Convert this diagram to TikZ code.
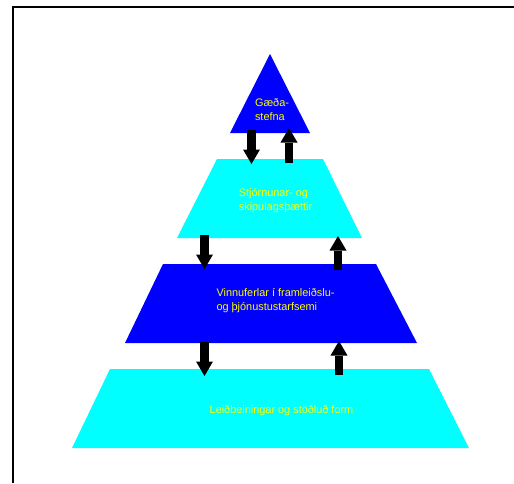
\documentclass[tikz,border=0pt]{standalone}
\usepackage{fontspec}
\setmainfont{Liberation Sans}
\usetikzlibrary{arrows.meta}
\definecolor{lvcyan}{RGB}{0,255,255}
\definecolor{lvblue}{RGB}{0,0,255}
\definecolor{lvyellow}{RGB}{255,255,0}
\tikzset{
  level/.style={draw=none},
  lbl/.style={text=lvyellow, font=\fontsize{10.9}{14}\selectfont, align=left, inner sep=0pt},
  blk/.style={line width=8.5pt, -{Triangle[width=17pt,length=14.5pt,line width=0pt]}, black},
  frame/.style={line width=2pt, black}
}
\begin{document}
\begin{tikzpicture}[x=1pt,y=-1pt]
\useasboundingbox (0,0) rectangle (514,483);
% frame
\draw[frame] (13,483) -- (13,7) -- (514,7);
% levels
\fill[lvcyan] (110,369) -- (429,369) -- (469,448) -- (72,448) -- cycle;
\fill[lvblue] (163,264) -- (376,264) -- (417,343) -- (125,343) -- cycle;
\fill[lvcyan] (217,159) -- (323,159) -- (362,238) -- (177,238) -- cycle;
\fill[lvblue] (270,54) -- (310,133) -- (230,133) -- cycle;
% labels
\node[lbl] (t1) at (272,109.5) {Gæða-\\stefna};
\node[lbl] (t2) at (275.5,200.5) {Stjórnunar- og\\skipulagsþættir};
\node[lbl] (t3) at (275.5,300.5) {Vinnuferlar í framleiðslu-\\og þjónustustarfsemi};
\node[lbl] (t4) at (281.5,411) {Leiðbeiningar og stöðluð form};
% arrow endpoints
\coordinate (d1s) at (251.5,130); \coordinate (d1e) at (251.5,164);
\coordinate (u1s) at (289,163);   \coordinate (u1e) at (289,128);
\coordinate (d2s) at (204.5,235); \coordinate (d2e) at (204.5,269);
\coordinate (u2s) at (338,270);   \coordinate (u2e) at (338,236);
\coordinate (d3s) at (204.5,342); \coordinate (d3e) at (204.5,376);
\coordinate (u3s) at (339,375);   \coordinate (u3e) at (339,341);
\draw[blk] (d1s) -- (d1e);
\draw[blk] (u1s) -- (u1e);
\draw[blk] (d2s) -- (d2e);
\draw[blk] (u2s) -- (u2e);
\draw[blk] (d3s) -- (d3e);
\draw[blk] (u3s) -- (u3e);
\end{tikzpicture}
\end{document}
